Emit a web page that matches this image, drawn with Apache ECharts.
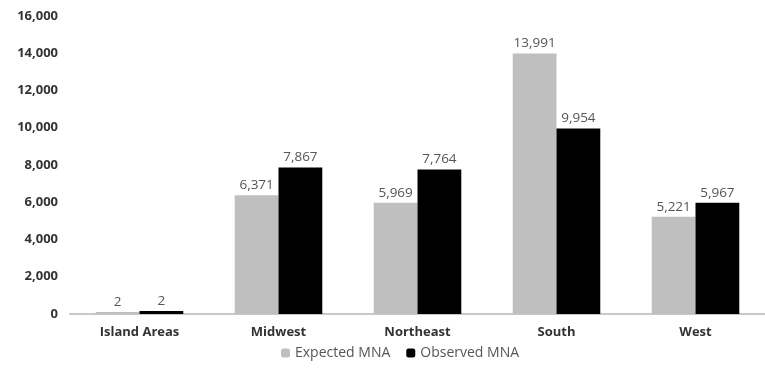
<!DOCTYPE html>
<html>
<head>
<meta charset="utf-8">
<script src="https://cdn.jsdelivr.net/npm/echarts@6/dist/echarts.min.js"></script>
<style>
  html, body { margin: 0; padding: 0; background: #fff; }
  #chart { width: 765px; height: 378px; }
</style>
</head>
<body>
<div id="chart"></div>
<script>
var regions = ['Island Areas', 'Midwest', 'Northeast', 'South', 'West'];
var expectedMNA = [2, 6371, 5969, 13991, 5221];
var observedMNA = [2, 7867, 7764, 9954, 5967];
var seriesNames = ['Expected MNA', 'Observed MNA'];

var chart = echarts.init(document.getElementById('chart'));
var font = '"Open Sans", Lato, sans-serif';

function fmt(v) {
    return v.toLocaleString('en-US');
}

var labelStyle = {
    show: true,
    position: 'top',
    distance: 3,
    color: '#555',
    fontSize: 13.5,
    fontFamily: font,
    formatter: function (p) { return fmt(p.value); }
};

var option = {
    animation: false,
    backgroundColor: '#fff',
    grid: { left: 70, right: 0, top: 16, bottom: 64 },
    legend: {
        bottom: 13,
        left: 276,
        itemWidth: 9,
        itemHeight: 9,
        itemGap: 16,
        textStyle: { color: '#555', fontSize: 14, fontFamily: font },
        data: seriesNames
    },
    xAxis: {
        type: 'category',
        data: regions,
        axisLine: { lineStyle: { color: '#c8c8c8', width: 2 } },
        axisTick: { show: false },
        axisLabel: { color: '#333', fontSize: 13, fontWeight: 'bold', fontFamily: font, margin: 12 }
    },
    yAxis: {
        type: 'value',
        min: 0,
        max: 16000,
        interval: 2000,
        splitLine: { show: false },
        axisLine: { show: false },
        axisTick: { show: false },
        axisLabel: {
            color: '#333', fontSize: 13, fontWeight: 'bold', fontFamily: font, margin: 12,
            formatter: function (v) { return fmt(v); }
        }
    },
    series: [{
        name: seriesNames[0],
        type: 'bar',
        data: expectedMNA,
        barGap: '0%',
        barCategoryGap: '37%',
        barMinHeight: 2,
        itemStyle: { color: '#bfbfbf' },
        label: labelStyle
    }, {
        name: seriesNames[1],
        type: 'bar',
        data: observedMNA,
        barMinHeight: 3,
        itemStyle: { color: '#000' },
        label: labelStyle
    }]
};

chart.setOption(option);
</script>
</body>
</html>
